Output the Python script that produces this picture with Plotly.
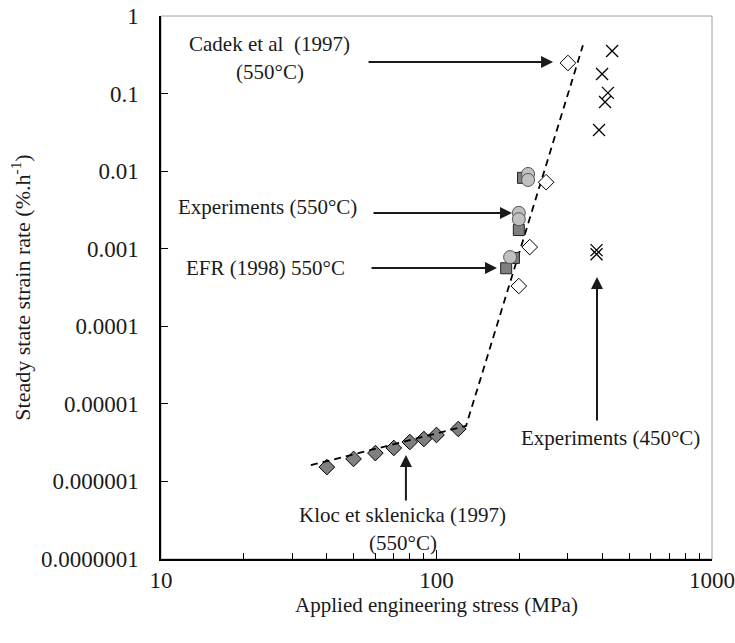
import plotly.graph_objects as go
import math

# ---- data ----
kloc_stress = [40, 50, 60, 70, 80, 90, 100, 120]
kloc_rate = [1.53e-6, 1.95e-6, 2.32e-6, 2.70e-6, 3.22e-6, 3.52e-6, 3.97e-6, 4.74e-6]

cadek_stress = [300, 250, 218, 199]
cadek_rate = [0.248, 0.0072, 0.00105, 0.00033]

exp550_stress = [215, 215, 199, 199, 185]
exp550_rate = [0.0092, 0.0077, 0.0029, 0.0024, 0.00078]

efr_stress = [206, 199, 191, 179]
efr_rate = [0.0082, 0.00174, 0.00076, 0.00056]

exp450_stress = [434, 399, 419, 409, 389, 381, 381]
exp450_rate = [0.354, 0.179, 0.102, 0.078, 0.034, 0.00096, 0.00085]

fit_stress = [35, 128, 340]
fit_rate = [1.62e-6, 5.2e-6, 0.42]

ytick_vals = [1, 0.1, 0.01, 0.001, 0.0001, 0.00001, 0.000001, 0.0000001]
ytick_text = ["1", "0.1", "0.01", "0.001", "0.0001", "0.00001", "0.000001", "0.0000001"]
xtick_vals = [10, 100, 1000]
xtick_text = ["10", "100", "1000"]

FONT = "Liberation Serif"
FS = 21
TFS = 23

fig = go.Figure()

fig.add_trace(go.Scatter(x=kloc_stress, y=kloc_rate, mode="markers",
                         marker=dict(symbol="diamond", size=12, color="#808080",
                                     line=dict(color="#000000", width=1))))
fig.add_trace(go.Scatter(x=fit_stress, y=fit_rate, mode="lines",
                         line=dict(color="#000000", width=1.8, dash="7px,5px")))
fig.add_trace(go.Scatter(x=cadek_stress, y=cadek_rate, mode="markers",
                         marker=dict(symbol="diamond", size=12, color="#ffffff",
                                     line=dict(color="#000000", width=1))))
fig.add_trace(go.Scatter(x=efr_stress, y=efr_rate, mode="markers",
                         marker=dict(symbol="square", size=11, color="#7f7f7f",
                                     line=dict(color="#222222", width=1))))
fig.add_trace(go.Scatter(x=exp550_stress, y=exp550_rate, mode="markers",
                         marker=dict(symbol="circle", size=13, color="#c0c0c0",
                                     line=dict(color="#555555", width=1))))
fig.add_trace(go.Scatter(x=exp450_stress, y=exp450_rate, mode="markers",
                         marker=dict(symbol="x-thin-open", size=12, color="#000000",
                                     line=dict(color="#000000", width=1.3))))

L = math.log10
ann = []
def arrow(x, y, ax, ay):
    ann.append(dict(x=L(x), y=L(y), ax=ax, ay=ay, xref="x", yref="y",
                    showarrow=True, arrowhead=2, arrowsize=1.2, arrowwidth=2,
                    arrowcolor="#1a1a1a", text=""))
def label(x, y, t):
    ann.append(dict(x=L(x), y=L(y), xref="x", yref="y", showarrow=False, text=t,
                    font=dict(family=FONT, size=FS, color="#1a1a1a")))

arrow(10**2.423, 10**-0.593, -186, 0)
arrow(10**2.274, 10**-2.540, -140, 0)
arrow(10**2.2196, 10**-3.249, -127, 0)
arrow(10**2.5826, 10**-3.365, 0, 145)
arrow(10**1.889, 10**-5.659, 0, 47)

label(10**1.3956, 10**-0.361, "Cadek et al  (1997)")
label(10**1.3956, 10**-0.722, "(550°C)")
label(10**1.385, 10**-2.462, "Experiments (550°C)")
label(10**1.381, 10**-3.249, "EFR (1998) 550°C")
label(10**2.633, 10**-5.440, "Experiments (450°C)")
label(10**1.878, 10**-6.433, "Kloc et sklenicka (1997)")
label(10**1.878, 10**-6.794, "(550°C)")

# gray frame top/right
fig.add_shape(type="rect", xref="paper", yref="paper", x0=0, y0=0, x1=1, y1=1,
              line=dict(color="#a0a0a0", width=1), layer="below")

fig.update_layout(
    width=735, height=643,
    margin=dict(l=161, r=23, t=16, b=84, autoexpand=False),
    paper_bgcolor="white", plot_bgcolor="white",
    showlegend=False,
    annotations=ann,
    font=dict(family=FONT, size=FS, color="#1a1a1a"),
)
fig.update_xaxes(type="log", range=[1, 3], tickvals=xtick_vals, ticktext=xtick_text,
                 automargin=False,
                 showgrid=False, zeroline=False, showline=True, linecolor="#000000",
                 linewidth=1.5, ticks="inside", ticklen=9, tickcolor="#000000",
                 ticklabeloverflow="allow",
                 minor=dict(ticks="inside", ticklen=6, tickcolor="#000000", dtick="D1",
                            showgrid=False),
                 title=dict(text="Applied engineering stress (MPa)", standoff=4,
                            font=dict(family=FONT, size=FS)),
                 tickfont=dict(family=FONT, size=TFS))
fig.update_yaxes(type="log", range=[-7, 0], tickvals=ytick_vals, ticktext=ytick_text,
                 automargin=False,
                 showgrid=False, zeroline=False, showline=True, linecolor="#000000",
                 linewidth=1.5, ticks="inside", ticklen=7, tickcolor="#000000",
                 ticklabelstandoff=16, ticklabeloverflow="allow",
                 title=dict(text="Steady state strain rate (%.h<sup>-1</sup>)", standoff=4,
                            font=dict(family=FONT, size=22)),
                 tickfont=dict(family=FONT, size=TFS))

# remove the browser's default 8px body margin so the figure fills the window
fig.write_html("out.html", config={"displayModeBar": False},
               post_script="document.body.style.margin='0';document.body.style.overflow='hidden';")
